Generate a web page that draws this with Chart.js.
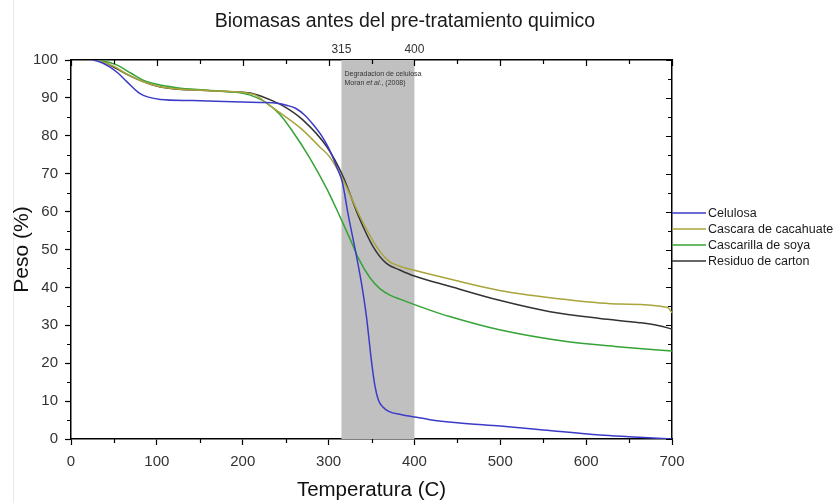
<!DOCTYPE html>
<html lang="es">
<head>
<meta charset="UTF-8">
<title>Biomasas antes del pre-tratamiento quimico</title>
<script src="https://cdn.jsdelivr.net/npm/chart.js@4"></script>
<style>
    html, body { margin: 0; padding: 0; background: #fff; }
    #wrap { width: 837px; height: 503px; }
</style>
</head>
<body>
<div id="wrap"><canvas id="tga" width="837" height="503"></canvas></div>

<script>
    // temperaturas (C) y peso (%)
    const celT = [25, 30, 45, 55, 65, 80, 90, 104, 142, 220, 240, 252, 262, 272, 282, 292, 300, 310, 316, 323, 331, 338, 344, 350, 354, 358, 363, 370, 385, 400, 418, 450, 500, 550, 616, 650, 700];
    const celW = [100, 99.8, 98.2, 96.5, 94.3, 91.2, 90.2, 89.6, 89.3, 88.8, 88.6, 88.0, 87.2, 85.5, 83, 80, 76.8, 71.5, 67.8, 59, 50, 41.5, 32.5, 20.5, 14, 10.3, 8.5, 7.3, 6.4, 5.8, 5.1, 4.3, 3.4, 2.4, 1.05, 0.6, 0];

    const cacT = [25, 35, 50, 65, 85, 105, 160, 212, 232, 250, 270, 290, 301, 317, 337, 356, 371, 383, 400, 441, 499, 577, 640, 695, 700];
    const cacW = [100, 99.6, 98.3, 96.3, 94.2, 92.9, 91.9, 91.0, 87.9, 85, 81.5, 77, 74.5, 68.3, 58.5, 50.7, 46.8, 45.6, 44.5, 42.2, 39.2, 36.8, 35.6, 34.7, 33.3];

    const soyT = [25, 36, 53, 70, 84, 100, 123, 160, 200, 215, 228, 243, 258, 278, 298, 313, 325, 335, 348, 360, 372, 383, 418, 441, 499, 577, 640, 700];
    const soyW = [100, 99.8, 98.7, 96.5, 94.7, 93.6, 92.7, 92, 91.2, 90.2, 88.6, 85.7, 81.2, 74.2, 66, 58.8, 52.8, 47.6, 42.6, 39.6, 37.9, 36.9, 34, 32.3, 28.8, 25.7, 24.3, 23.2];

    const carT = [25, 30, 49, 65, 84, 104, 162, 190, 212, 235, 250, 270, 298, 317, 335, 352, 367, 383, 400, 441, 499, 558, 616, 662, 685, 700];
    const carW = [100, 100, 98.2, 96.2, 94.3, 92.9, 91.9, 91.6, 91.1, 89.2, 87.5, 84.2, 77.1, 69.2, 58.7, 50.7, 46.4, 44.6, 43.0, 40.3, 36.6, 33.6, 31.8, 30.7, 29.9, 29];

    const seriesNames = ['Celulosa', 'Cascara de cacahuate', 'Cascarilla de soya', 'Residuo de carton'];
    const seriesColors = ['#3b3bc8', '#a9a43c', '#35a336', '#333333'];

    // zona de degradacion de celulosa
    const bandStart = 315;
    const bandEnd = 400;
    const topLabels = [bandStart, bandEnd];

    const pts = (t, w) => t.map((v, i) => ({ x: v, y: w[i] }));
    const allSeries = [pts(celT, celW), pts(cacT, cacW), pts(soyT, soyW), pts(carT, carW)];

    const font = 'Arial, "Liberation Sans", sans-serif';

    const background = {
        id: 'background',
        beforeDraw(chart) {
            const ctx = chart.ctx;
            ctx.save();
            ctx.fillStyle = '#fff';
            ctx.fillRect(0, 0, chart.width, chart.height);
            ctx.fillStyle = '#e6e9f0';
            ctx.fillRect(13, 0, 1, chart.height);
            ctx.restore();
        }
    };

    const band = {
        id: 'band',
        beforeDatasetsDraw(chart) {
            const { ctx, chartArea: a, scales: { x } } = chart;
            const x1 = x.getPixelForValue(bandStart);
            const x2 = x.getPixelForValue(bandEnd);
            ctx.save();
            ctx.fillStyle = '#c0c0c0';
            ctx.fillRect(x1, a.top, x2 - x1, a.bottom - a.top);

            ctx.fillStyle = '#333';
            ctx.textBaseline = 'middle';
            ctx.font = '7px ' + font;
            ctx.fillText('Degradacion de celulosa', x1 + 3, a.top + 14);
            let tx = x1 + 3;
            ctx.fillText('Moran ', tx, a.top + 23);
            tx += ctx.measureText('Moran ').width;
            ctx.font = 'italic 7px ' + font;
            ctx.fillText('et al.', tx, a.top + 23);
            tx += ctx.measureText('et al.').width;
            ctx.font = '7px ' + font;
            ctx.fillText(', (2008)', tx, a.top + 23);
            ctx.restore();
        }
    };

    const extraTicks = {
        id: 'extraTicks',
        afterDraw(chart) {
            const { ctx, chartArea: a, scales: { x, y } } = chart;
            ctx.save();
            ctx.strokeStyle = '#000';
            ctx.lineWidth = 1.2;
            ctx.beginPath();
            for (let t = 0; t <= 700; t += 50) {
                const px = Math.round(x.getPixelForValue(t)) + 0.5;
                if (t % 100) {
                    ctx.moveTo(px, a.bottom);
                    ctx.lineTo(px, a.bottom + 4);
                }
                ctx.moveTo(px, a.top);
                ctx.lineTo(px, a.top + (t % 100 ? 4 : 6));
            }
            for (let w = 0; w <= 100; w += 5) {
                const py = Math.round(y.getPixelForValue(w)) + 0.5;
                if (w % 10) {
                    ctx.moveTo(a.left, py);
                    ctx.lineTo(a.left - 4, py);
                }
                ctx.moveTo(a.right, py);
                ctx.lineTo(a.right - (w % 10 ? 4 : 6), py);
            }
            ctx.stroke();
            ctx.restore();
        }
    };

    const titleAndLegend = {
        id: 'titleAndLegend',
        afterDraw(chart) {
            const { ctx, chartArea: a } = chart;
            ctx.save();
            ctx.fillStyle = '#1a1a1a';
            ctx.textAlign = 'center';
            ctx.textBaseline = 'middle';
            ctx.font = '19.5px ' + font;
            ctx.fillText('Biomasas antes del pre-tratamiento quimico', 405, 22);

            ctx.textAlign = 'left';
            ctx.font = '12.5px ' + font;
            chart.data.datasets.forEach((ds, i) => {
                const ly = a.top + 153 + i * 16;
                ctx.strokeStyle = ds.borderColor;
                ctx.lineWidth = 1.5;
                ctx.beginPath();
                ctx.moveTo(a.right, ly);
                ctx.lineTo(a.right + 34, ly);
                ctx.stroke();
                ctx.fillStyle = '#1a1a1a';
                ctx.fillText(ds.label, a.right + 36, ly + 1);
            });
            ctx.restore();
        }
    };

    new Chart(document.getElementById('tga'), {
        type: 'line',
        data: {
            datasets: allSeries.map((data, i) => ({
                label: seriesNames[i],
                data: data,
                borderColor: seriesColors[i],
                backgroundColor: seriesColors[i],
                borderWidth: 1.5,
                pointRadius: 0,
                cubicInterpolationMode: 'monotone',
                fill: false,
                xAxisID: 'x',
                yAxisID: 'y'
            }))
        },
        options: {
            responsive: false,
            devicePixelRatio: 1,
            animation: false,
            layout: { padding: 0 },
            plugins: {
                legend: { display: false },
                tooltip: { enabled: false },
                title: { display: false }
            },
            scales: {
                x: {
                    type: 'linear',
                    position: 'bottom',
                    min: 0,
                    max: 700,
                    ticks: { stepSize: 100, color: '#333', font: { size: 15, family: font }, padding: 8, maxRotation: 0 },
                    grid: { drawOnChartArea: false, color: '#000', tickLength: 6, tickWidth: 1.2 },
                    border: { color: '#000', width: 1.5 },
                    title: { display: true, text: 'Temperatura (C)', color: '#111', font: { size: 20.5, family: font }, padding: { top: 0, bottom: 0 } },
                    afterFit: s => { s.height = 64; }
                },
                x2: {
                    type: 'linear',
                    position: 'top',
                    min: 0,
                    max: 700,
                    afterBuildTicks: s => { s.ticks = topLabels.map(v => ({ value: v })); },
                    ticks: { color: '#333', font: { size: 12, family: font }, padding: 3 },
                    grid: { drawOnChartArea: false, drawTicks: false },
                    border: { color: '#000', width: 1.5 },
                    afterFit: s => { s.height = 60; }
                },
                y: {
                    min: 0,
                    max: 100,
                    ticks: { stepSize: 10, color: '#333', font: { size: 15, family: font }, padding: 7 },
                    grid: { drawOnChartArea: false, color: '#000', tickLength: 6, tickWidth: 1.2 },
                    border: { color: '#000', width: 1.5 },
                    title: { display: true, text: 'Peso (%)', color: '#111', font: { size: 21, family: font }, padding: { top: 10, bottom: 0 } },
                    afterFit: s => { s.width = 71; }
                },
                y2: {
                    position: 'right',
                    min: 0,
                    max: 100,
                    ticks: { display: false },
                    grid: { drawOnChartArea: false, drawTicks: false },
                    border: { color: '#000', width: 1.5 },
                    afterFit: s => { s.width = 165; }
                }
            }
        },
        plugins: [background, band, extraTicks, titleAndLegend]
    });
</script>
</body>
</html>
